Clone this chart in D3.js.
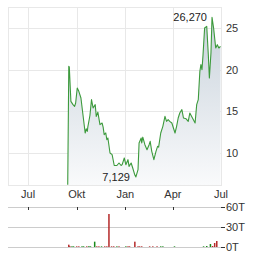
<!DOCTYPE html>
<html>
<head>
<meta charset="utf-8">
<script src="https://cdn.jsdelivr.net/npm/d3@7"></script>
<style>
  body { margin: 0; background: #fff; }
  svg { display: block; font-family: "Liberation Sans", Arial, sans-serif; }
</style>
</head>
<body>
<script>
// Price series (closing prices); the first point is the listing start at the bottom edge
const priceDates = [
  "2024-09-14","2024-09-16","2024-09-17","2024-09-20","2024-09-24","2024-09-27","2024-09-29",
  "2024-10-02","2024-10-05","2024-10-09","2024-10-13","2024-10-17","2024-10-19","2024-10-21",
  "2024-10-22","2024-10-26","2024-10-29","2024-11-01","2024-11-05","2024-11-07","2024-11-10",
  "2024-11-14","2024-11-18","2024-11-20","2024-11-22","2024-11-25","2024-11-27","2024-11-29",
  "2024-12-03","2024-12-07","2024-12-11","2024-12-16","2024-12-20","2024-12-24","2024-12-26",
  "2024-12-30","2025-01-02","2025-01-06","2025-01-08","2025-01-12","2025-01-15","2025-01-19",
  "2025-01-21","2025-01-25","2025-01-27","2025-01-31","2025-02-01","2025-02-03","2025-02-07",
  "2025-02-11","2025-02-15","2025-02-17","2025-02-20","2025-02-24","2025-02-28","2025-03-03",
  "2025-03-05","2025-03-09","2025-03-13","2025-03-17","2025-03-20","2025-03-23","2025-03-26",
  "2025-03-30","2025-04-02","2025-04-05","2025-04-08","2025-04-11","2025-04-14","2025-04-18",
  "2025-04-21","2025-04-26","2025-04-30","2025-05-03","2025-05-08","2025-05-13","2025-05-16",
  "2025-05-19","2025-05-22","2025-05-24","2025-05-26","2025-05-28","2025-05-31","2025-06-04",
  "2025-06-07","2025-06-09","2025-06-12","2025-06-14","2025-06-17","2025-06-21","2025-06-24",
  "2025-06-27","2025-06-30"
];
const priceValues = [
  6.2, 20.4, 20.3, 16.2, 15.8, 15.6, 16.0,
  17.8, 17.4, 16.6, 14.5, 12.4, 12.9, 12.6,
  13.1, 14.5, 16.4, 15.4, 15.8, 14.4, 14.9,
  13.4, 13.6, 13.1, 12.2, 12.4, 11.6, 11.8,
  10.0, 9.8, 8.5, 8.5, 8.8, 8.5, 8.6,
  9.4, 8.6, 9.2, 8.4, 8.8, 8.2, 7.35,
  7.129, 8.0, 11.2, 11.8, 11.2, 11.9, 11.0,
  10.4, 11.0, 11.4, 10.2, 9.2, 10.2, 10.8,
  10.7, 12.4, 13.2, 14.4, 13.8, 14.0, 13.8,
  13.6, 13.0, 12.4, 13.2, 14.2, 14.8, 15.2,
  14.2, 14.1, 13.8, 14.8, 14.2, 13.6, 15.8,
  16.4, 19.8, 20.6, 20.0, 21.8, 25.0, 25.2,
  21.8, 19.0, 22.0, 26.27, 25.0, 22.6, 23.0,
  22.6, 22.8
];

// Volume bars (thousands of shares), up = green
const volDates = [
  "2024-09-16","2024-09-18","2024-09-22","2024-09-25","2024-10-01","2024-10-05","2024-10-11",
  "2024-10-14","2024-10-20","2024-10-24","2024-10-27","2024-11-04","2024-11-08","2024-11-12",
  "2024-11-17","2024-11-23","2024-11-27","2024-12-01","2024-12-06","2024-12-10","2024-12-16",
  "2024-12-20","2025-01-02","2025-01-06","2025-01-09","2025-01-19","2025-01-25","2025-01-28",
  "2025-02-01","2025-02-16","2025-02-22","2025-03-02","2025-03-09","2025-03-13","2025-04-04",
  "2025-05-29","2025-06-04","2025-06-11","2025-06-15","2025-06-19","2025-06-23"
];
const volValues = [
  3.5, 1.2, 1.0, 1.0, 1.0, 1.0, 1.0,
  1.0, 1.0, 1.2, 1.0, 8.0, 1.0, 1.0,
  1.0, 1.0, 1.0, 49.5, 1.0, 1.0, 1.0,
  1.0, 1.0, 1.0, 1.0, 8.0, 1.0, 1.0,
  1.0, 1.0, 1.0, 1.0, 1.0, 1.0, 1.0,
  1.0, 1.5, 4.5, 1.5, 6.0, 9.0
];
const volUp = [
  0, 0, 1, 1, 0, 0, 1,
  1, 0, 1, 1, 1, 0, 0,
  1, 0, 0, 0, 0, 0, 1,
  0, 1, 0, 0, 0, 0, 0,
  0, 0, 0, 0, 1, 1, 1,
  1, 1, 1, 0, 0, 0
];

const monthTicks = ["2024-07-01", "2024-10-01", "2025-01-01", "2025-04-01", "2025-07-01"];
const monthLabels = ["Jul", "Okt", "Jan", "Apr", "Jul"];
const priceTicks = [10, 15, 20, 25];
const volTicks = [0, 30, 60];
const volTickLabels = ["0T", "30T", "60T"];

const parse = d3.timeParse("%Y-%m-%d");
const prices = priceDates.map((d, i) => ({ date: parse(d), value: priceValues[i] }));
const volumes = volDates.map((d, i) => ({ date: parse(d), value: volValues[i], up: volUp[i] }));

const W = 264, H = 255;
const plot = { left: 8, right: 221, top: 7, bottom: 185 };
const vol = { top: 207, bottom: 247 };

const svg = d3.select("body").append("svg")
    .attr("width", W)
    .attr("height", H);

const x = d3.scaleTime()
    .domain([parse("2024-05-24"), parse("2025-07-01")])
    .range([plot.left, plot.right]);

const y = d3.scaleLinear()
    .domain([6.16, 27.52])
    .range([plot.bottom, plot.top]);

const yVol = d3.scaleLinear()
    .domain([0, 60])
    .range([vol.bottom, vol.top]);

// gradient for area
const grad = svg.append("defs").append("linearGradient")
    .attr("id", "fillGrad")
    .attr("gradientUnits", "userSpaceOnUse")
    .attr("x1", 0).attr("y1", plot.top)
    .attr("x2", 0).attr("y2", plot.bottom);
grad.append("stop").attr("offset", "0%").attr("stop-color", "#c6d0da");
grad.append("stop").attr("offset", "100%").attr("stop-color", "#f9fafb");

// grid
svg.append("g")
    .selectAll("line")
    .data(priceTicks)
    .join("line")
    .attr("x1", plot.left).attr("x2", plot.right)
    .attr("y1", d => Math.round(y(d)) + 0.5)
    .attr("y2", d => Math.round(y(d)) + 0.5)
    .attr("stroke", "#e8e8e8");

svg.append("g")
    .selectAll("line")
    .data(monthTicks.slice(0, 4))
    .join("line")
    .attr("x1", d => Math.round(x(parse(d))) + 0.5)
    .attr("x2", d => Math.round(x(parse(d))) + 0.5)
    .attr("y1", plot.top).attr("y2", plot.bottom)
    .attr("stroke", "#e8e8e8");

// area + line
const area = d3.area()
    .x(d => x(d.date))
    .y0(plot.bottom)
    .y1(d => y(d.value));

svg.append("path")
    .datum(prices)
    .attr("d", area)
    .attr("fill", "url(#fillGrad)");

svg.append("rect")
    .attr("x", plot.left + 0.5).attr("y", plot.top + 0.5)
    .attr("width", plot.right - plot.left).attr("height", plot.bottom - plot.top)
    .attr("fill", "none")
    .attr("stroke", "#e8e8e8");

const line = d3.line()
    .x(d => x(d.date))
    .y(d => y(d.value));

svg.append("path")
    .datum(prices)
    .attr("d", line)
    .attr("fill", "none")
    .attr("stroke", "#3c9a3c")
    .attr("stroke-width", 1.1)
    .attr("stroke-linejoin", "round");

// high / low labels (skip the listing start point)
const traded = prices.slice(1);
const hi = traded.reduce((a, b) => b.value > a.value ? b : a);
const lo = traded.reduce((a, b) => b.value < a.value ? b : a);
const fmt = v => v.toFixed(3).replace(".", ",");

svg.append("text")
    .attr("x", x(hi.date) - 5)
    .attr("y", y(hi.value) + 4)
    .attr("text-anchor", "end")
    .attr("font-size", 11)
    .attr("fill", "#222")
    .text(fmt(hi.value));

svg.append("text")
    .attr("x", x(lo.date) - 6)
    .attr("y", y(lo.value) + 4)
    .attr("text-anchor", "end")
    .attr("font-size", 11)
    .attr("fill", "#222")
    .text(fmt(lo.value));

// right price axis labels
svg.append("g")
    .selectAll("text")
    .data(priceTicks)
    .join("text")
    .attr("x", 226)
    .attr("y", d => y(d) + 4)
    .attr("font-size", 11)
    .attr("fill", "#333")
    .text(d => d);

// month labels
svg.append("g")
    .selectAll("text")
    .data(monthTicks)
    .join("text")
    .attr("x", d => x(parse(d)))
    .attr("y", 198)
    .attr("text-anchor", "middle")
    .attr("font-size", 11)
    .attr("fill", "#333")
    .text((d, i) => monthLabels[i]);

// volume grid
svg.append("g")
    .selectAll("line")
    .data(volTicks)
    .join("line")
    .attr("x1", plot.left).attr("x2", plot.right)
    .attr("y1", d => Math.round(yVol(d)) + 0.5)
    .attr("y2", d => Math.round(yVol(d)) + 0.5)
    .attr("stroke", "#cccccc");

// small ticks under top volume line
svg.append("g")
    .selectAll("line")
    .data(monthTicks.slice(0, 4))
    .join("line")
    .attr("x1", d => Math.round(x(parse(d))) + 0.5)
    .attr("x2", d => Math.round(x(parse(d))) + 0.5)
    .attr("y1", vol.top).attr("y2", vol.top + 3)
    .attr("stroke", "#333");

// volume bars
svg.append("g")
    .selectAll("rect")
    .data(volumes)
    .join("rect")
    .attr("x", d => x(d.date) - 0.75)
    .attr("width", 1.5)
    .attr("y", d => yVol(d.value))
    .attr("height", d => vol.bottom - yVol(d.value))
    .attr("fill", d => d.up ? "#1a8a1a" : "#b52a2a");

// volume axis
const va = svg.append("g");
va.selectAll("line")
    .data(volTicks)
    .join("line")
    .attr("x1", 221).attr("x2", 225)
    .attr("y1", d => Math.round(yVol(d)) + 0.5)
    .attr("y2", d => Math.round(yVol(d)) + 0.5)
    .attr("stroke", "#333");
va.selectAll("text")
    .data(volTicks)
    .join("text")
    .attr("x", 226)
    .attr("y", d => yVol(d) + 4)
    .attr("font-size", 11)
    .attr("fill", "#333")
    .text((d, i) => volTickLabels[i]);
</script>
</body>
</html>
